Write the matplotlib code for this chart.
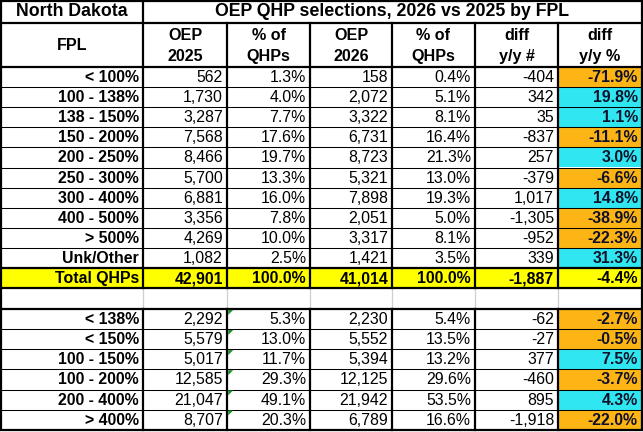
import matplotlib
matplotlib.use('Agg')
import matplotlib.pyplot as plt
from matplotlib.patches import Rectangle, Polygon

# ---------------- data ----------------
state = "North Dakota"
title = "OEP QHP selections, 2026 vs 2025 by FPL"
headers = ["FPL", "OEP\n2025", "% of\nQHPs", "OEP\n2026", "% of\nQHPs", "diff\ny/y #", "diff\ny/y %"]

fpl_top = ["< 100%", "100 - 138%", "138 - 150%", "150 - 200%", "200 - 250%", "250 - 300%",
           "300 - 400%", "400 - 500%", "> 500%", "Unk/Other", "Total QHPs"]
oep2025_top = [562, 1730, 3287, 7568, 8466, 5700, 6881, 3356, 4269, 1082, 42901]
pct2025_top = [1.3, 4.0, 7.7, 17.6, 19.7, 13.3, 16.0, 7.8, 10.0, 2.5, 100.0]
oep2026_top = [158, 2072, 3322, 6731, 8723, 5321, 7898, 2051, 3317, 1421, 41014]
pct2026_top = [0.4, 5.1, 8.1, 16.4, 21.3, 13.0, 19.3, 5.0, 8.1, 3.5, 100.0]
diff_top = [-404, 342, 35, -837, 257, -379, 1017, -1305, -952, 339, -1887]
diffpct_top = [-71.9, 19.8, 1.1, -11.1, 3.0, -6.6, 14.8, -38.9, -22.3, 31.3, -4.4]

fpl_bot = ["< 138%", "< 150%", "100 - 150%", "100 - 200%", "200 - 400%", "> 400%"]
oep2025_bot = [2292, 5579, 5017, 12585, 21047, 8707]
pct2025_bot = [5.3, 13.0, 11.7, 29.3, 49.1, 20.3]
oep2026_bot = [2230, 5552, 5394, 12125, 21942, 6789]
pct2026_bot = [5.4, 13.5, 13.2, 29.6, 53.5, 16.6]
diff_bot = [-62, -27, 377, -460, 895, -1918]
diffpct_bot = [-2.7, -0.5, 7.5, -3.7, 4.3, -22.0]

# ---------------- style ----------------
FONT = "Liberation Sans"
ORANGE = "#FDB515"
CYAN = "#30E6F0"
YELLOW = "#FFFF00"
TEXT_DIFF = "#10102a"
GRAY = "#cfcfcf"
GREEN = "#1f8a2a"
FS = 11.4
THICK = 1.6
THIN = 0.75

W, H = 643, 432
fig = plt.figure(figsize=(W / 100, H / 100), dpi=100)
ax = fig.add_axes([0, 0, 1, 1])
ax.set_xlim(0, W)
ax.set_ylim(H, 0)
ax.axis('off')

xe = [0.8, 143, 227, 310, 392, 475, 558, 641.8]
TITLE_B, HEAD_B = 23, 67
row_h = 20.1
top_edges = [HEAD_B + i * row_h for i in range(len(fpl_top) + 1)]
spacer_b = top_edges[-1] + 21
bot_h = 20.1
bot_edges = [spacer_b + i * bot_h for i in range(len(fpl_bot) + 1)]
bottom = bot_edges[-1]


def fmt_int(v):
    return f"{v:,}"


def fmt_pct(v):
    return f"{v:.1f}%"


def draw_rows(edges, fpl, a, b, c, d, e, f, total_last=False, triangles=False):
    n = len(fpl)
    for i in range(n):
        y0, y1 = edges[i], edges[i + 1]
        yc = (y0 + y1) / 2 + 0.5
        is_total = total_last and i == n - 1
        if is_total:
            ax.add_patch(Rectangle((xe[0], y0), xe[-1] - xe[0], y1 - y0, color=YELLOW, lw=0, zorder=1))
        else:
            col = ORANGE if f[i] < 0 else CYAN
            ax.add_patch(Rectangle((xe[6], y0), xe[7] - xe[6], y1 - y0, color=col, lw=0, zorder=1))
        vals = [fmt_int(a[i]), fmt_pct(b[i]), fmt_int(c[i]), fmt_pct(d[i]), fmt_int(e[i]), fmt_pct(f[i])]
        ax.text(xe[1] - 4, yc, fpl[i], ha='right', va='center', fontsize=FS, fontweight='bold',
                family=FONT, zorder=5)
        for j, s in enumerate(vals):
            bold = is_total or j == 5
            color = 'black' if (is_total or j != 5) else TEXT_DIFF
            ax.text(xe[j + 2] - 4, yc, s, ha='right', va='center', fontsize=FS,
                    fontweight='bold' if bold else 'normal', color=color, family=FONT, zorder=5)
        if triangles:
            x0 = xe[2] + 1.2
            ax.add_patch(Polygon([[x0, y0 + 0.8], [x0 + 5, y0 + 0.8], [x0, y0 + 5.8]],
                                 closed=True, color=GREEN, lw=0, zorder=6))
        if i > 0:
            ax.plot([xe[0], xe[-1]], [y0, y0], color='black', lw=THIN, zorder=3)


draw_rows(top_edges, fpl_top, oep2025_top, pct2025_top, oep2026_top, pct2026_top, diff_top, diffpct_top,
          total_last=True)
draw_rows(bot_edges, fpl_bot, oep2025_bot, pct2025_bot, oep2026_bot, pct2026_bot, diff_bot, diffpct_bot,
          triangles=True)

# title row
ax.text((xe[0] + xe[1]) / 2, TITLE_B / 2 + 0.5, state, ha='center', va='center', fontsize=12.8,
        fontweight='bold', family=FONT, zorder=5)
ax.text((xe[1] + xe[-1]) / 2, TITLE_B / 2 + 0.5, title, ha='center', va='center', fontsize=12.8,
        fontweight='bold', family=FONT, zorder=5)

# header row
for j, h in enumerate(headers):
    ax.text((xe[j] + xe[j + 1]) / 2, (TITLE_B + HEAD_B) / 2 + 1, h, ha='center', va='center',
            fontsize=11.6, fontweight='bold', family=FONT, linespacing=1.45, zorder=5)

# spacer grid (light gray)
for x in xe[1:-1]:
    ax.plot([x, x], [top_edges[-1], spacer_b], color=GRAY, lw=0.9, zorder=2)

# thick horizontal lines
for y in [TITLE_B, HEAD_B, top_edges[-2], top_edges[-1], spacer_b]:
    ax.plot([xe[0], xe[-1]], [y, y], color='black', lw=THICK, zorder=4)

# vertical lines
ax.plot([xe[1], xe[1]], [0, top_edges[-1]], color='black', lw=THICK, zorder=4)
ax.plot([xe[1], xe[1]], [spacer_b, bottom], color='black', lw=THICK, zorder=4)
for x in xe[2:-1]:
    ax.plot([x, x], [TITLE_B, top_edges[-1]], color='black', lw=THICK, zorder=4)
    ax.plot([x, x], [spacer_b, bottom], color='black', lw=THICK, zorder=4)

# outer border
ax.add_patch(Rectangle((xe[0], 0.8), xe[-1] - xe[0], bottom - 0.8, fill=False, ec='black',
                       lw=THICK, zorder=7))

fig.savefig("out.png", dpi=100)
